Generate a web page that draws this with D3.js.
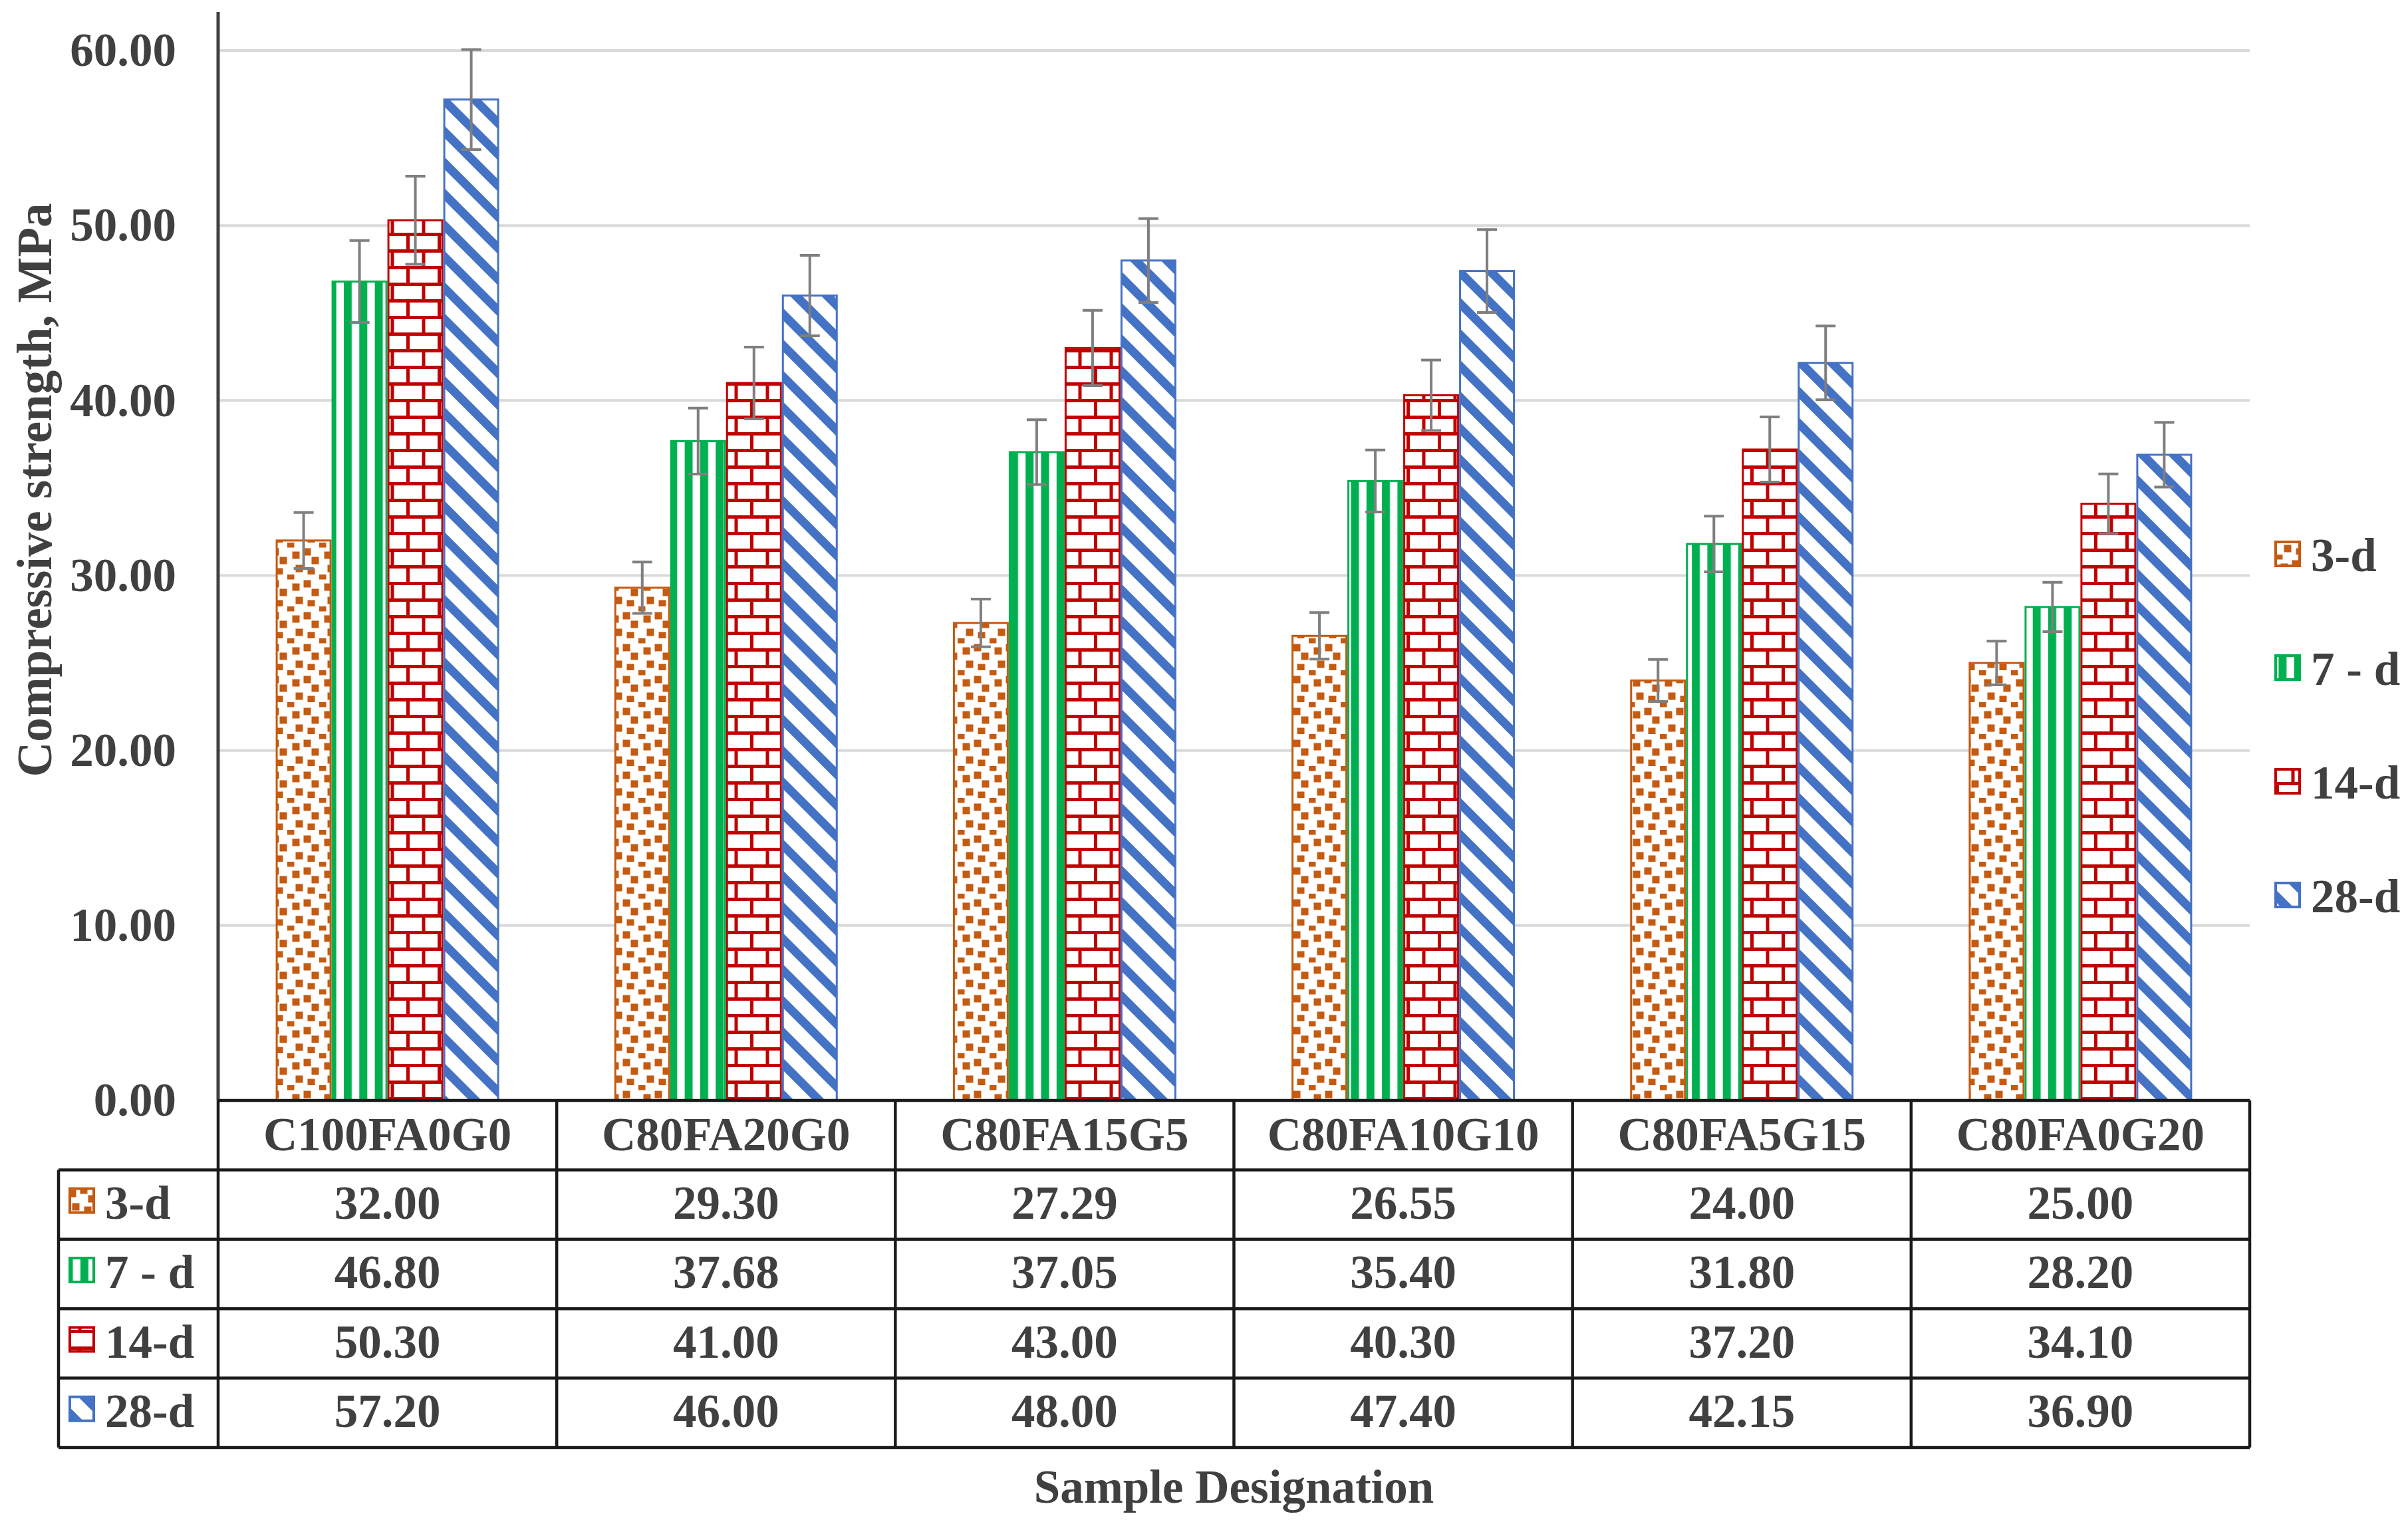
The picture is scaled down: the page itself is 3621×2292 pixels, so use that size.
<!DOCTYPE html>
<html>
<head>
<meta charset="utf-8">
<script src="https://cdn.jsdelivr.net/npm/d3@7"></script>
<style>
  body { margin: 0; background: #fff; }
  text { font-family: "Liberation Serif", "Times New Roman", serif; font-weight: bold; fill: #404040; }
</style>
</head>
<body>
<svg id="chart" width="3621" height="2292"></svg>
<script>
// data
const categories = ['C100FA0G0', 'C80FA20G0', 'C80FA15G5', 'C80FA10G10', 'C80FA5G15', 'C80FA0G20']
const seriesNames = ['3-d', '7 - d', '14-d', '28-d']
const strength3d = [32.00, 29.30, 27.29, 26.55, 24.00, 25.00]
const strength7d = [46.80, 37.68, 37.05, 35.40, 31.80, 28.20]
const strength14d = [50.30, 41.00, 43.00, 40.30, 37.20, 34.10]
const strength28d = [57.20, 46.00, 48.00, 47.40, 42.15, 36.90]
const yTicks = [0, 10, 20, 30, 40, 50, 60]
const errorPercent = 5 // percentage error bars

const seriesValues = [strength3d, strength7d, strength14d, strength28d]
const colors = ['#C55A11', '#00B050', '#C00000', '#4472C4']
const patternIds = ['confetti', 'vstripe', 'brick', 'diag']

const svg = d3.select('#chart')
const plotLeft = 328
const plotRight = 3383
const plotTop = 76
const plotBase = 1655
const rowH = 104.4
const tableLeft = 88

const x = d3.scaleBand().domain(categories).range([plotLeft, plotRight])
const groupW = 336
const xs = d3.scaleBand().domain(seriesNames).range([0, groupW])
const y = d3.scaleLinear().domain([0, 60]).range([plotBase, plotTop])

// patterns
const defs = svg.append('defs')
const pConf = defs.append('pattern').attr('id', 'confetti').attr('patternUnits', 'userSpaceOnUse')
  .attr('width', 48).attr('height', 48)
pConf.append('rect').attr('width', 48).attr('height', 48).attr('fill', '#fff')
pConf.selectAll('rect.sq')
  .data([[30, 14], [13, 19], [42, 27], [18, 39], [36, 44], [5, 2]])
  .join('rect')
  .attr('class', 'sq')
  .attr('x', d => d[0] - 5.5)
  .attr('y', d => d[1] - 5.5)
  .attr('width', 11).attr('height', 11)
  .attr('fill', colors[0])

const pStripe = defs.append('pattern').attr('id', 'vstripe').attr('patternUnits', 'userSpaceOnUse')
  .attr('width', 23.3).attr('height', 20).attr('x', 517)
pStripe.append('rect').attr('width', 23.3).attr('height', 20).attr('fill', '#fff')
pStripe.append('rect').attr('width', 12).attr('height', 20).attr('fill', colors[1])

const pBrick = defs.append('pattern').attr('id', 'brick').attr('patternUnits', 'userSpaceOnUse')
  .attr('width', 47).attr('height', 50)
pBrick.append('rect').attr('width', 47).attr('height', 50).attr('fill', '#fff')
pBrick.append('rect').attr('y', 0).attr('width', 47).attr('height', 5).attr('fill', colors[2])
pBrick.append('rect').attr('y', 25).attr('width', 47).attr('height', 5).attr('fill', colors[2])
pBrick.append('rect').attr('x', 0).attr('y', 0).attr('width', 5).attr('height', 25).attr('fill', colors[2])
pBrick.append('rect').attr('x', 23.5).attr('y', 25).attr('width', 5).attr('height', 25).attr('fill', colors[2])

const pDiag = defs.append('pattern').attr('id', 'diag').attr('patternUnits', 'userSpaceOnUse')
  .attr('width', 47).attr('height', 47)
pDiag.append('rect').attr('width', 47).attr('height', 47).attr('fill', '#fff')
pDiag.append('path')
  .attr('d', 'M-57,-10L10,57M-10,-10L57,57M37,-10L104,57')
  .attr('stroke', colors[3]).attr('stroke-width', 13).attr('fill', 'none')

// gridlines and tick labels
const yAxis = svg.append('g')
  .attr('transform', `translate(${plotLeft},0)`)
  .call(d3.axisLeft(y).tickValues(yTicks).tickSize(0).tickPadding(63).tickFormat(d3.format('.2f')))
yAxis.select('.domain').remove()
yAxis.selectAll('text').attr('font-size', 71).attr('fill', '#404040')
  .style('font-family', '"Liberation Serif", serif').style('font-weight', 'bold')

svg.append('g').selectAll('line')
  .data(yTicks.filter(d => d > 0))
  .join('line')
  .attr('x1', plotLeft).attr('x2', plotRight)
  .attr('y1', d => y(d)).attr('y2', d => y(d))
  .attr('stroke', '#d9d9d9').attr('stroke-width', 4)

// bars
const groups = svg.append('g').selectAll('g')
  .data(seriesNames)
  .join('g')

groups.selectAll('rect')
  .data((s, si) => categories.map((c, ci) => ({ c, s, si, v: seriesValues[si][ci] })))
  .join('rect')
  .attr('x', d => x(d.c) + (x.bandwidth() - groupW) / 2 + xs(d.s) + 1.5)
  .attr('y', d => y(d.v))
  .attr('width', xs.bandwidth() - 3)
  .attr('height', d => plotBase - y(d.v))
  .attr('fill', d => `url(#${patternIds[d.si]})`)
  .attr('stroke', d => colors[d.si])
  .attr('stroke-width', 3)

// error bars
const errs = groups.selectAll('g.err')
  .data((s, si) => categories.map((c, ci) => ({ c, s, si, v: seriesValues[si][ci] })))
  .join('g')
  .attr('class', 'err')
  .attr('transform', d => `translate(${x(d.c) + (x.bandwidth() - groupW) / 2 + xs(d.s) + xs.bandwidth() / 2},0)`)
errs.append('path')
  .attr('d', d => {
    const e = d.v * errorPercent / 100
    const y1 = y(d.v + e)
    const y2 = y(d.v - e)
    return `M0,${y1}V${y2}M-15,${y1}H15M-15,${y2}H15`
  })
  .attr('stroke', '#7f7f7f').attr('stroke-width', 4).attr('fill', 'none')

// axis line
svg.append('line')
  .attr('x1', plotLeft).attr('x2', plotLeft).attr('y1', 18).attr('y2', plotBase)
  .attr('stroke', '#404040').attr('stroke-width', 5)

// data table
const table = svg.append('g')
const tableBottom = plotBase + rowH * 5
table.append('g').selectAll('text')
  .data(categories)
  .join('text')
  .attr('x', d => x(d) + x.bandwidth() / 2)
  .attr('y', plotBase + rowH / 2)
  .attr('dy', '0.32em')
  .attr('text-anchor', 'middle')
  .attr('font-size', 71)
  .text(d => d)

seriesNames.forEach((s, si) => {
  const rowY = plotBase + rowH * (si + 1)
  table.append('g').selectAll('text')
    .data(seriesValues[si])
    .join('text')
    .attr('x', (d, i) => x(categories[i]) + x.bandwidth() / 2)
    .attr('y', rowY + rowH / 2)
    .attr('dy', '0.3em')
    .attr('text-anchor', 'middle')
    .attr('font-size', 71)
    .text(d => d.toFixed(2))
  table.append('rect')
    .attr('x', 105).attr('y', rowY + rowH / 2 - 24)
    .attr('width', 36).attr('height', 36)
    .attr('fill', `url(#${patternIds[si]})`)
    .attr('stroke', colors[si]).attr('stroke-width', 4)
  table.append('text')
    .attr('x', 158).attr('y', rowY + rowH / 2)
    .attr('dy', '0.3em')
    .attr('font-size', 71)
    .text(s)
})

// table grid
const hLines = d3.range(0, 6).map(i => plotBase + rowH * i)
table.selectAll('line.h')
  .data(hLines)
  .join('line')
  .attr('class', 'h')
  .attr('x1', (d, i) => i === 0 ? plotLeft : tableLeft)
  .attr('x2', plotRight)
  .attr('y1', d => d).attr('y2', d => d)
  .attr('stroke', '#1a1a1a').attr('stroke-width', 4.5)
const vLines = categories.map(c => x(c)).concat([plotRight])
table.selectAll('line.v')
  .data(vLines)
  .join('line')
  .attr('class', 'v')
  .attr('x1', d => d).attr('x2', d => d)
  .attr('y1', plotBase).attr('y2', tableBottom)
  .attr('stroke', '#1a1a1a').attr('stroke-width', 4.5)
table.append('line')
  .attr('x1', tableLeft).attr('x2', tableLeft)
  .attr('y1', plotBase + rowH).attr('y2', tableBottom)
  .attr('stroke', '#1a1a1a').attr('stroke-width', 4.5)

// legend
const legend = svg.append('g').selectAll('g')
  .data(seriesNames)
  .join('g')
  .attr('transform', (d, i) => `translate(3422,${834 + i * 171})`)
legend.append('rect')
  .attr('x', 0).attr('y', -19)
  .attr('width', 36).attr('height', 36)
  .attr('fill', (d, i) => `url(#${patternIds[i]})`)
  .attr('stroke', (d, i) => colors[i]).attr('stroke-width', 4)
legend.append('text')
  .attr('x', 53).attr('dy', '0.35em')
  .attr('font-size', 71)
  .text(d => d)

// axis titles
svg.append('text')
  .attr('transform', 'translate(51,737) rotate(-90)')
  .attr('text-anchor', 'middle').attr('dy', '0.35em')
  .attr('font-size', 73)
  .text('Compressive strength, MPa')
svg.append('text')
  .attr('x', (plotLeft + plotRight) / 2).attr('y', 2235)
  .attr('text-anchor', 'middle').attr('dy', '0.35em')
  .attr('font-size', 71)
  .text('Sample Designation')
</script>
</body>
</html>
